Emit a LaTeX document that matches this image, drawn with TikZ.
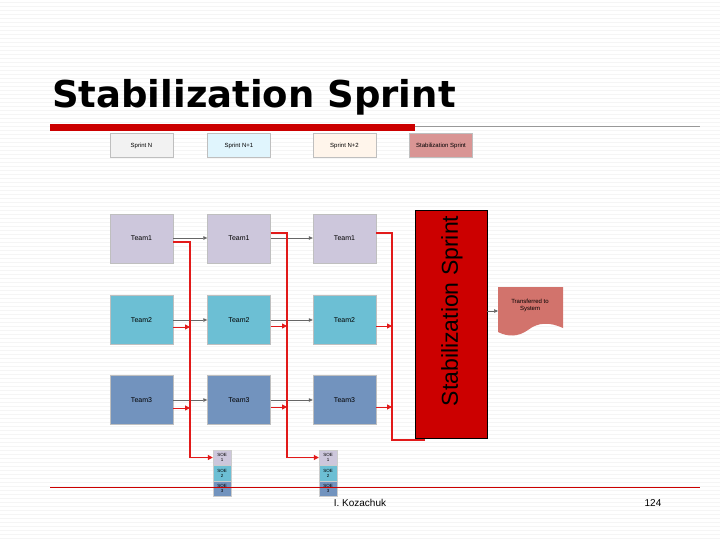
\documentclass[tikz,border=0pt]{standalone}
\usepackage{fontspec}
\setmainfont{Liberation Sans}
\newfontfamily\titlefont{DejaVu Sans}
\usetikzlibrary{arrows.meta}
\definecolor{tA}{HTML}{CDC7DC}\definecolor{tB}{HTML}{6CBFD4}\definecolor{tC}{HTML}{7293BE}
\definecolor{rd}{HTML}{E21A1A}\definecolor{dk}{HTML}{CC0000}
\definecolor{legS}{HTML}{D99594}\definecolor{docc}{HTML}{D2736C}
\tikzset{box/.style={draw=black!25,minimum width=63pt,minimum height=49pt,font=\fontsize{7}{8}\selectfont,inner sep=0pt},
leg/.style={draw=black!25,minimum width=63pt,minimum height=24pt,font=\fontsize{6}{7}\selectfont,inner sep=0pt},
soe/.style={draw=black!20,minimum width=18pt,minimum height=15.5pt,font=\fontsize{4.5}{5}\selectfont,align=center,inner sep=0pt},
blk/.style={-{Triangle[length=4pt,width=3.5pt]},black!60,line width=0.5pt},
red/.style={rd,line width=1.4pt},
ra/.style={rd,line width=1pt,-{Triangle[length=5pt,width=5pt]}}}
\begin{document}
\begin{tikzpicture}[x=1pt,y=-1pt]
\useasboundingbox (0,0) rectangle (720,540);
\fill[white] (0,0) rectangle (720,540);
\foreach \y in {2,6,...,538} \draw[black!4,line width=0.6pt] (0,\y) -- (720,\y);
\node[anchor=base west,font=\titlefont\fontsize{37}{40}\selectfont\bfseries,inner sep=0] (title) at (52,108) {Stabilization Sprint};
\fill[dk] (50,124) rectangle (415,131);
\draw[black!40,line width=0.5pt] (415,126) -- (700,126);
\node[leg,fill=black!5] (l1) at (141.5,145.5) {Sprint N};
\node[leg,fill=cyan!12] (l2) at (239,145.5) {Sprint N+1};
\node[leg,fill=orange!8] (l3) at (344.5,145.5) {Sprint N+2};
\node[leg,fill=legS] (l4) at (441,145.5) {Stabilization Sprint};
\foreach \c/\x in {1/141.5,2/239,3/344.5}{
 \node[box,fill=tA] (a\c) at (\x,238.5) {Team1};
 \node[box,fill=tB] (b\c) at (\x,320) {Team2};
 \node[box,fill=tC] (c\c) at (\x,400) {Team3};}
\foreach \r/\y in {a/238,b/320,c/400}{
 \draw[blk] (\r1.east |- 0,\y) -- (\r2.west |- 0,\y);
 \draw[blk] (\r2.east |- 0,\y) -- (\r3.west |- 0,\y);}
\foreach \x/\n in {213/s1,319/s2}{
 \node[soe,fill=tA] (\n a) at (\x+9,457.5) {SOE\\1};
 \node[soe,fill=tB] (\n b) at (\x+9,473) {SOE\\2};
 \node[soe,fill=tC] (\n c) at (\x+9,488.5) {SOE\\3};}
\node[draw=black,fill=dk,minimum width=72pt,minimum height=228pt,inner sep=0] (st) at (451,324) {};
\node[rotate=90,font=\fontsize{23}{24}\selectfont,inner sep=0] (stt) at (452,311) {Stabilization Sprint};
% red lines
\draw[red] (a1.east |- 0,242) -- (190,242) -- (190,457.5);
\draw[ra] (190,457.5) -- (s1a.west);
\draw[red] (a2.east |- 0,233) -- (287,233) -- (287,457.5);
\draw[ra] (287,457.5) -- (s2a.west);
\draw[red] (a3.east |- 0,233) -- (392,233) -- (392,440) -- (425,440);
\foreach \y in {327,408}{
 \draw[ra] (b1.east |- 0,\y) -- (190,\y);
 \draw[ra] (b2.east |- 0,\y-1) -- (287,\y-1);
 \draw[ra] (b3.east |- 0,\y-1) -- (392,\y-1);}
\fill[docc] (498,287) -- (563,287) -- (563,328) .. controls (550,322) and (538,322) .. (528,330) .. controls (518,337) and (508,337) .. (498,332) -- cycle;
\node[font=\fontsize{6}{7}\selectfont,align=center] (doc) at (530,305) {Transferred to\\System};
\draw[blk] (st.east |- 0,311) -- (498,311);
\draw[dk,line width=0.6pt] (50,487) -- (700,487);
\node[font=\fontsize{10}{12}\selectfont] (au) at (360,503) {I. Kozachuk};
\node[font=\fontsize{10}{12}\selectfont] (pg) at (653,503) {124};
\end{tikzpicture}
\end{document}
